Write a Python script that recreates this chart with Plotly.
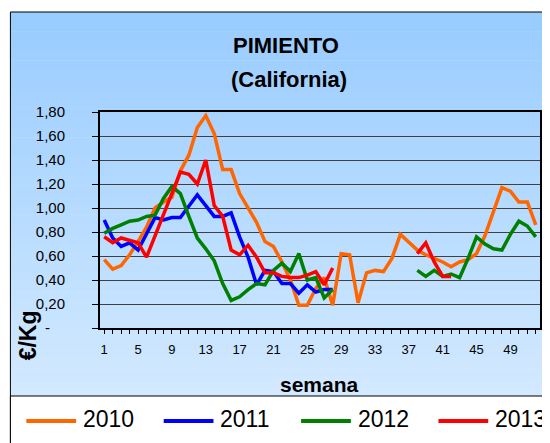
import plotly.graph_objects as go

# semanas 1..52
weeks = list(range(1, 53))

p2010 = [0.57, 0.49, 0.52, 0.61, 0.72, 0.84, 1.00, 1.05, 1.09, 1.31,
         1.44, 1.67, 1.77, 1.62, 1.32, 1.32, 1.12, 1.00, 0.88, 0.72,
         0.68, 0.55, 0.40, 0.19, 0.19, 0.33, 0.42, 0.19, 0.62, 0.61,
         0.21, 0.46, 0.48, 0.47, 0.58, 0.78, 0.71, 0.65, 0.61, 0.58,
         0.55, 0.51, 0.55, 0.57, 0.62, 0.77, 0.97, 1.17, 1.14, 1.05,
         1.05, 0.86]
p2011 = [0.90, 0.75, 0.68, 0.71, 0.65, 0.79, 0.92, 0.90, 0.92, 0.92,
         1.01, 1.11, 1.02, 0.93, 0.93, 0.96, 0.76, 0.59, 0.36, 0.48,
         0.47, 0.37, 0.37, 0.29, 0.36, 0.30, 0.32, 0.32] + [None] * 24
p2012 = [0.79, 0.83, 0.86, 0.89, 0.90, 0.93, 0.94, 1.08, 1.18, 1.12,
         0.93, 0.75, 0.66, 0.56, 0.37, 0.23, 0.26, 0.32, 0.37, 0.36,
         0.48, 0.54, 0.47, 0.62, 0.40, 0.42, 0.25, 0.32] + [None] * 9 + \
        [0.48, 0.43, 0.48, 0.43, 0.45, 0.42, 0.58, 0.76, 0.70, 0.66,
         0.65, 0.78, 0.89, 0.85, 0.76]
p2013 = [0.76, 0.71, 0.75, 0.73, 0.71, 0.59, 0.77, 0.95, 1.13, 1.30,
         1.28, 1.20, 1.40, 1.02, 0.93, 0.65, 0.61, 0.69, 0.59, 0.46,
         0.46, 0.43, 0.42, 0.42, 0.44, 0.47, 0.36, 0.50] + [None] * 9 + \
        [0.62, 0.71, 0.55, 0.43, 0.43] + [None] * 10

years = ["2010", "2011", "2012", "2013"]
colors = ["#FF6600", "#0000FF", "#008000", "#FF0000"]
series = [p2010, p2011, p2012, p2013]

y_tickvals = [0, 0.2, 0.4, 0.6, 0.8, 1.0, 1.2, 1.4, 1.6, 1.8]
y_ticktext = ["", "0,20", "0,40", "0,60", "0,80", "1,00",
              "1,20", "1,40", "1,60", "1,80"]

# la página tiene 8px de margen en el body
OFF = 8
W, H = 550 - OFF, 443 - OFF
L, R, T, B = 92, 8, 104, 115
PW, PH = W - L - R, H - T - B


def px(x):
    # coordenada de pantalla -> paper
    return (x - OFF - L) / PW


def py(y):
    return (H - B - (y - OFF)) / PH


FONT = "Liberation Sans, Arial, sans-serif"

fig = go.Figure()
for name, vals, color in zip(years, series, colors):
    fig.add_trace(go.Scatter(x=weeks, y=vals, mode="lines", name=name,
                             line=dict(color=color, width=3.5),
                             connectgaps=False, showlegend=False))

shapes = []
# fondo degradado
top_c, bot_c = (0x99, 0xCC, 0xFF), (0xD2, 0xE9, 0xFF)
nb = 40
y0, y1 = 12, 397
for i in range(nb):
    f = i / (nb - 1)
    c = tuple(round(a + (b - a) * f) for a, b in zip(top_c, bot_c))
    ya = y0 + (y1 - y0) * i / nb
    yb = y0 + (y1 - y0) * (i + 1) / nb + 0.6
    shapes.append(dict(type="rect", xref="paper", yref="paper", layer="below",
                       x0=px(10), x1=px(560), y0=py(yb), y1=py(ya),
                       fillcolor="rgb(%d,%d,%d)" % c, line=dict(width=0)))
# marco
shapes.append(dict(type="rect", xref="paper", yref="paper", layer="below",
                   x0=px(10), x1=px(560), y0=py(470), y1=py(12),
                   line=dict(color="#000000", width=1)))
# caja de leyenda
shapes.append(dict(type="rect", xref="paper", yref="paper", layer="below",
                   x0=px(10), x1=px(560), y0=py(470), y1=py(396),
                   fillcolor="white", line=dict(color="#000000", width=1)))


def label(text, x, y, size, angle=0, xanchor="center"):
    return dict(text=text, x=px(x), y=py(y), xref="paper", yref="paper",
                xanchor=xanchor, yanchor="middle", showarrow=False,
                textangle=angle, font=dict(family=FONT, size=size, color="black"))


annotations = [
    label("<b>PIMIENTO</b>", 287, 45, 22),
    label("<b>(California)</b>", 290, 79, 22),
    label("<b>semana</b>", 320, 384, 21),
    label("<b>€/Kg</b>", 28, 335, 23, angle=-90),
    label("-", 47, 327, 15),  # etiqueta del cero
]

# leyenda manual
for i, (name, color) in enumerate(zip(years, colors)):
    x0 = 26 + 138 * i
    shapes.append(dict(type="line", xref="paper", yref="paper",
                       x0=px(x0), x1=px(x0 + 50), y0=py(421), y1=py(421),
                       line=dict(color=color, width=4)))
    annotations.append(label(name, x0 + 55, 419, 23, xanchor="left"))

fig.update_layout(
    width=W, height=H,
    margin=dict(l=L, r=R, t=T, b=B),
    paper_bgcolor="white",
    plot_bgcolor="white",
    shapes=shapes,
    annotations=annotations,
    xaxis=dict(range=[0.5, 52.5], tick0=1, dtick=4, showgrid=False, zeroline=False,
               showline=True, linecolor="black", linewidth=2, mirror=True,
               ticks="outside", ticklen=4, tickcolor="black",
               minor=dict(dtick=1, ticks="outside", ticklen=4, tickcolor="black"),
               tickfont=dict(family=FONT, size=13, color="black"),
               ticklabelstandoff=4),
    yaxis=dict(range=[0, 1.8], tickvals=y_tickvals, ticktext=y_ticktext,
               showgrid=True, gridcolor="#404040", gridwidth=1, zeroline=False,
               showline=True, linecolor="black", linewidth=2, mirror=True,
               ticks="outside", ticklen=6, tickcolor="black",
               tickfont=dict(family=FONT, size=15, color="black"),
               ticklabelstandoff=24),
)

fig.write_html("out.html")
